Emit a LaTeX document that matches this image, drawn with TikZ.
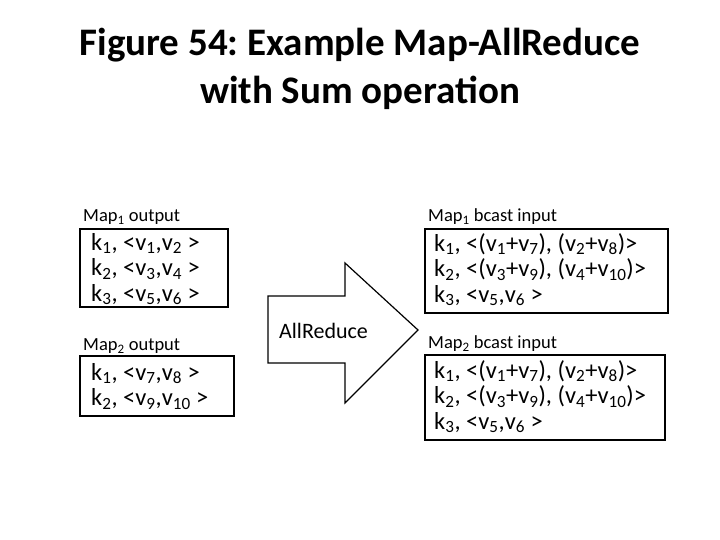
\documentclass[tikz,border=0pt]{standalone}
\usepackage{fontspec}
\setmainfont{Carlito}
\frenchspacing
\begin{document}
\begin{tikzpicture}[x=1pt,y=-1pt,
 box/.style={draw,line width=1.6pt},
 lbl/.style={anchor=west,font=\fontsize{18.5}{18}\selectfont,inner sep=0},
 txt/.style={anchor=north west,align=left,font=\fontsize{24.5}{25.5}\selectfont,inner sep=0}]
\useasboundingbox[fill=white] (0,0) rectangle (720,540);
\node[font=\bfseries\fontsize{39}{48}\selectfont,align=center] (title) at (360,69) {Figure 54: Example Map-AllReduce\\with Sum operation};
\node[lbl] (l1) at (83,217) {Map\textsubscript{1} output};
\draw[box] (80,229) rectangle (228,307);
\node[txt] (t1) at (91,233) {k\textsubscript{1}, <v\textsubscript{1},v\textsubscript{2} >\\k\textsubscript{2}, <v\textsubscript{3},v\textsubscript{4} >\\k\textsubscript{3}, <v\textsubscript{5},v\textsubscript{6} >};
\node[lbl] (l2) at (83,346) {Map\textsubscript{2} output};
\draw[box] (80,356) rectangle (234,416);
\node[txt] (t2) at (91,363) {k\textsubscript{1}, <v\textsubscript{7},v\textsubscript{8} >\\k\textsubscript{2}, <v\textsubscript{9},v\textsubscript{10} >};
\node[lbl] (l3) at (428,217) {Map\textsubscript{1} bcast input};
\draw[box] (425,229) rectangle (668,313);
\node[txt] (t3) at (434,233) {k\textsubscript{1}, <(v\textsubscript{1}+v\textsubscript{7}), (v\textsubscript{2}+v\textsubscript{8})>\\k\textsubscript{2}, <(v\textsubscript{3}+v\textsubscript{9}), (v\textsubscript{4}+v\textsubscript{10})>\\k\textsubscript{3}, <v\textsubscript{5},v\textsubscript{6} >};
\node[lbl] (l4) at (428,344) {Map\textsubscript{2} bcast input};
\draw[box] (425,355) rectangle (665,440);
\node[txt] (t4) at (434,360) {k\textsubscript{1}, <(v\textsubscript{1}+v\textsubscript{7}), (v\textsubscript{2}+v\textsubscript{8})>\\k\textsubscript{2}, <(v\textsubscript{3}+v\textsubscript{9}), (v\textsubscript{4}+v\textsubscript{10})>\\k\textsubscript{3}, <v\textsubscript{5},v\textsubscript{6} >};
\draw[line width=1.2pt,line join=miter] (268,296) -- (345,296) -- (345,263) -- (418,330) -- (345,403) -- (345,363) -- (268,363) -- cycle;
\node[anchor=west,font=\fontsize{22}{22}\selectfont,inner sep=0] (ar) at (279,331) {AllReduce};
\end{tikzpicture}
\end{document}
